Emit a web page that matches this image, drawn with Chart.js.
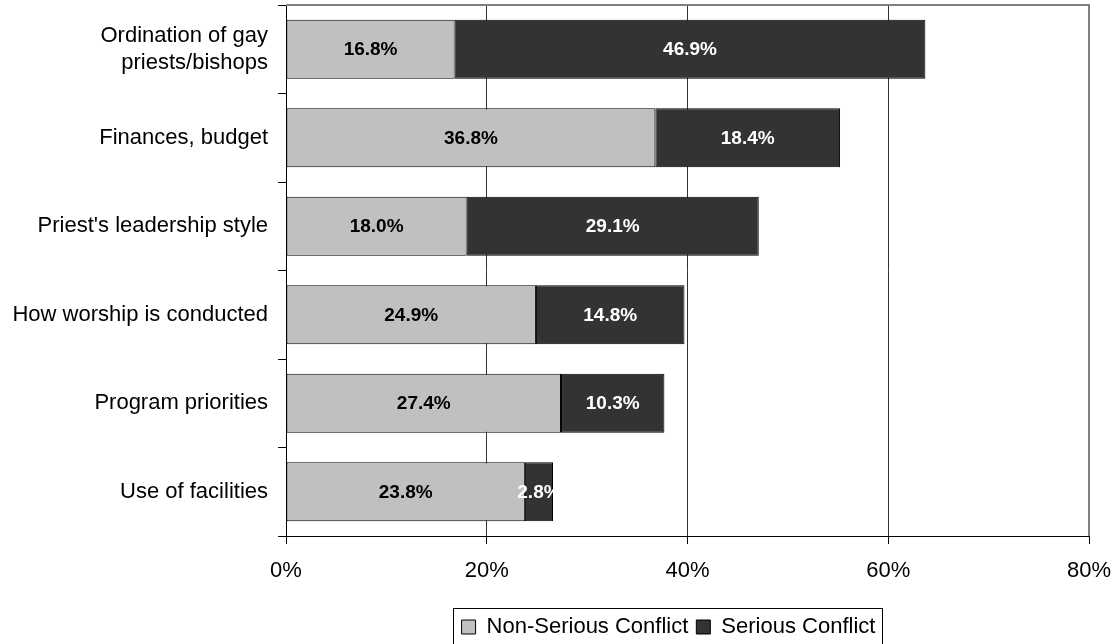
<!DOCTYPE html>
<html>
<head>
<meta charset="utf-8">
<script src="https://cdn.jsdelivr.net/npm/chart.js@4/dist/chart.umd.min.js"></script>
<style>
  html, body { margin: 0; padding: 0; background: #fff; }
  #wrap { width: 1117px; height: 644px; }
</style>
</head>
<body>
<div id="wrap"><canvas id="conflictChart" width="1117" height="644"></canvas></div>
<script>
// datos
var categories = [
  ['Ordination of gay', 'priests/bishops'],
  'Finances, budget',
  "Priest's leadership style",
  'How worship is conducted',
  'Program priorities',
  'Use of facilities'
];
var nonSerious = [16.8, 36.8, 18.0, 24.9, 27.4, 23.8];
var serious = [46.9, 18.4, 29.1, 14.8, 10.3, 2.8];
var xTicks = [0, 20, 40, 60, 80];

var fontFamily = '"Liberation Sans", Arial, sans-serif';

// etiquetas de valores dentro de cada segmento
var barLabels = {
  id: 'barLabels',
  afterDatasetsDraw: function(chart) {
    var ctx = chart.ctx;
    ctx.save();
    ctx.font = 'bold 19px ' + fontFamily;
    ctx.textAlign = 'center';
    ctx.textBaseline = 'middle';
    chart.data.datasets.forEach(function(ds, i) {
      var meta = chart.getDatasetMeta(i);
      ctx.fillStyle = i === 0 ? '#000' : '#fff';
      meta.data.forEach(function(bar, j) {
        var cx = (bar.x + bar.base) / 2;
        ctx.fillText(ds.data[j].toFixed(1) + '%', cx, bar.y + 1);
      });
    });
    ctx.restore();
  }
};

// borde gris arriba/derecha, leyenda desplazada y su recuadro
var frame = {
  id: 'frame',
  afterLayout: function(chart) {
    var lg = chart.legend;
    lg.left += 124;
    lg.right += 124;
    lg.top += 4;
    lg.bottom += 4;
  },
  beforeDatasetsDraw: function(chart) {
    var a = chart.chartArea, ctx = chart.ctx;
    ctx.save();
    ctx.strokeStyle = '#808080';
    ctx.lineWidth = 2;
    ctx.beginPath();
    ctx.moveTo(a.left, a.top);
    ctx.lineTo(a.right, a.top);
    ctx.lineTo(a.right, a.bottom);
    ctx.stroke();
    ctx.restore();
  },
  afterDraw: function(chart) {
    var boxes = chart.legend.legendHitBoxes;
    if (!boxes || !boxes.length) return;
    var left = Infinity, right = -Infinity, top = Infinity, bottom = -Infinity;
    boxes.forEach(function(b) {
      left = Math.min(left, b.left);
      right = Math.max(right, b.left + b.width);
      top = Math.min(top, b.top);
      bottom = Math.max(bottom, b.top + b.height);
    });
    var cy = (top + bottom) / 2;
    var ctx = chart.ctx;
    ctx.save();
    ctx.strokeStyle = '#000';
    ctx.lineWidth = 1;
    ctx.strokeRect(Math.round(left) - 8.5, Math.round(cy) - 18.5, Math.round(right - left) + 15, 36);
    ctx.restore();
  }
};

var ctx = document.getElementById('conflictChart').getContext('2d');
var conflictChart = new Chart(ctx, {
  type: 'bar',
  data: {
    labels: categories,
    datasets: [{
      label: 'Non-Serious Conflict',
      data: nonSerious,
      backgroundColor: '#c0c0c0',
      borderColor: '#000',
      borderWidth: 1,
      borderSkipped: false,
      barPercentage: 0.665,
      categoryPercentage: 1
    }, {
      label: 'Serious Conflict',
      data: serious,
      backgroundColor: '#333333',
      borderColor: '#000',
      borderWidth: 1,
      borderSkipped: false,
      barPercentage: 0.665,
      categoryPercentage: 1
    }]
  },
  options: {
    indexAxis: 'y',
    responsive: false,
    animation: false,
    layout: { padding: { top: 5, right: 28, left: 0, bottom: 0 } },
    scales: {
      x: {
        stacked: true,
        min: xTicks[0],
        max: xTicks[xTicks.length - 1],
        afterBuildTicks: function(scale) {
          scale.ticks = xTicks.map(function(v) { return { value: v }; });
        },
        afterFit: function(scale) {
          scale.height = 68;
          scale.paddingLeft = 0;
          scale.paddingRight = 0;
        },
        border: { color: '#000', width: 1 },
        grid: {
          color: function(c) { return c.tick && c.tick.value === 80 ? '#808080' : '#333'; },
          tickColor: '#000',
          tickLength: 8,
          lineWidth: 1
        },
        ticks: {
          color: '#000',
          padding: 14,
          font: { family: fontFamily, size: 22 },
          callback: function(v) { return v + '%'; }
        }
      },
      y: {
        stacked: true,
        afterFit: function(scale) {
          scale.width = 286;
          scale.paddingTop = 0;
          scale.paddingBottom = 0;
        },
        border: { color: '#000', width: 1 },
        grid: {
          drawOnChartArea: false,
          color: '#000',
          tickLength: 8,
          offset: true
        },
        ticks: {
          color: '#000',
          padding: 10,
          font: { family: fontFamily, size: 22, lineHeight: 1.2 }
        }
      }
    },
    plugins: {
      legend: {
        position: 'bottom',
        labels: {
          color: '#000',
          boxWidth: 14,
          boxHeight: 14,
          padding: 8,
          font: { family: fontFamily, size: 22 }
        }
      },
      tooltip: { enabled: false }
    }
  },
  plugins: [barLabels, frame]
});
</script>
</body>
</html>
